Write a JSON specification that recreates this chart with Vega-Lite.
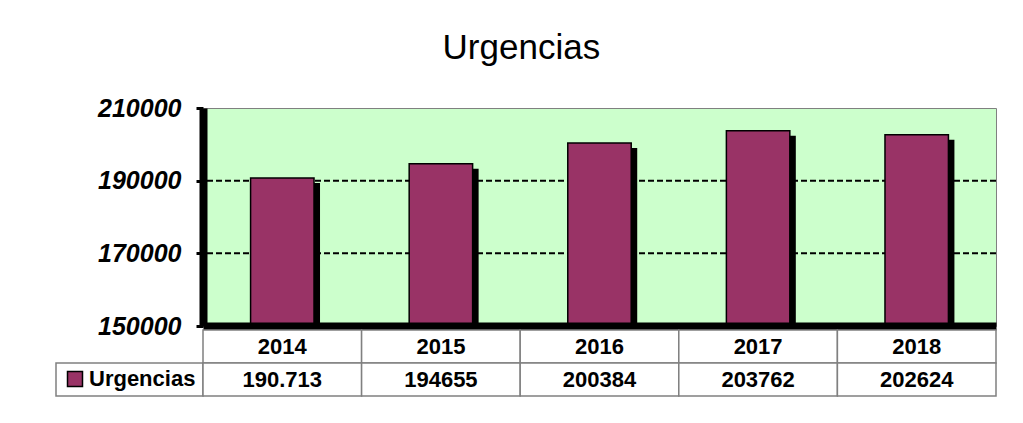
{
  "$schema": "https://vega.github.io/schema/vega-lite/v6.json",
  "padding": {"left": 55, "top": 30, "right": 5, "bottom": 5},
  "background": "white",
  "title": {"text": "Urgencias", "font": "Liberation Sans", "fontSize": 35, "fontWeight": "normal", "anchor": "middle", "color": "black", "offset": 30, "dx": -5},
  "columns": 2,
  "spacing": {"row": 4, "column": 0},
  "bounds": "flush",
  "datasets": {
    "urg": [
      {"year": "2014", "value": 190713, "serie": "Urgencias"},
      {"year": "2015", "value": 194655, "serie": "Urgencias"},
      {"year": "2016", "value": 200384, "serie": "Urgencias"},
      {"year": "2017", "value": 203762, "serie": "Urgencias"},
      {"year": "2018", "value": 202624, "serie": "Urgencias"}
    ],
    "grid": [{"v": 170000}, {"v": 190000}],
    "tabla": [
      {"year": "2014", "row": "year", "text": "2014"},
      {"year": "2015", "row": "year", "text": "2015"},
      {"year": "2016", "row": "year", "text": "2016"},
      {"year": "2017", "row": "year", "text": "2017"},
      {"year": "2018", "row": "year", "text": "2018"},
      {"year": "2014", "row": "value", "text": "190.713"},
      {"year": "2015", "row": "value", "text": "194655"},
      {"year": "2016", "row": "value", "text": "200384"},
      {"year": "2017", "row": "value", "text": "203762"},
      {"year": "2018", "row": "value", "text": "202624"}
    ]
  },
  "concat": [
    {
      "width": 147, "height": 218,
      "view": {"stroke": null},
      "data": {"values": [{}]},
      "mark": {"type": "text"},
      "encoding": {"text": {"value": ""}}
    },
    {
      "width": 793, "height": 218,
      "view": {"fill": "#CCFFCC", "stroke": "#808080", "strokeWidth": 1},
      "layer": [
        {
          "data": {"name": "grid"},
          "mark": {"type": "rule", "color": "black", "strokeWidth": 2, "strokeDash": [6, 3]},
          "encoding": {"y": {"field": "v", "type": "quantitative", "scale": {"domain": [150000, 210000], "nice": false, "zero": false},
                  "axis": {"values": [150000, 170000, 190000, 210000], "format": "d", "title": null,
                           "labelFont": "Liberation Sans", "labelFontSize": 25, "labelFontWeight": "bold", "labelFontStyle": "italic",
                           "labelColor": "black", "labelPadding": 15, "tickSize": 7, "tickWidth": 3, "tickColor": "black",
                           "domainColor": "black", "domainWidth": 8, "grid": false, "zindex": 1}}}
        },
        {
          "data": {"name": "urg"},
          "mark": {"type": "bar", "color": "black", "width": {"band": 0.4}, "xOffset": 6, "yOffset": 5, "clip": true},
          "encoding": {
            "x": {"field": "year", "type": "ordinal", "scale": {"paddingInner": 0, "paddingOuter": 0},
                  "axis": {"title": null, "labels": false, "ticks": false, "domain": true, "domainColor": "black", "domainWidth": 8, "zindex": 1, "grid": false}},
            "y": {"field": "value", "type": "quantitative"}
          }
        },
        {
          "data": {"name": "urg"},
          "mark": {"type": "bar", "width": {"band": 0.4}, "stroke": "black", "strokeWidth": 1.5, "clip": true},
          "encoding": {
            "x": {"field": "year", "type": "ordinal"},
            "y": {"field": "value", "type": "quantitative"},
            "color": {"field": "serie", "type": "nominal", "scale": {"range": ["#993366"]},
                      "legend": {"orient": "none", "legendX": 8, "legendY": 260, "title": null, "padding": 0,
                                 "symbolType": "square", "symbolSize": 225, "symbolStrokeColor": "black", "symbolStrokeWidth": 1.5,
                                 "labelFont": "Liberation Sans", "labelFontSize": 22, "labelFontWeight": "bold", "labelColor": "black", "labelOffset": 3}}
          }
        }
      ]
    },
    {
      "width": 147, "height": 66,
      "view": {"stroke": null},
      "data": {"values": [{"row": "value"}]},
      "mark": {"type": "rect", "filled": false, "stroke": "#808080", "strokeWidth": 1.5},
      "encoding": {
        "y": {"field": "row", "type": "nominal", "scale": {"domain": ["year", "value"], "paddingInner": 0, "paddingOuter": 0}, "axis": null}
      }
    },
    {
      "width": 793, "height": 66,
      "view": {"stroke": null},
      "data": {"name": "tabla"},
      "encoding": {
        "x": {"field": "year", "type": "ordinal", "scale": {"paddingInner": 0, "paddingOuter": 0}, "axis": null},
        "y": {"field": "row", "type": "nominal", "scale": {"domain": ["year", "value"], "paddingInner": 0, "paddingOuter": 0}, "axis": null}
      },
      "layer": [
        {"mark": {"type": "rect", "fill": "white", "stroke": "#808080", "strokeWidth": 1.5}},
        {"mark": {"type": "text", "font": "Liberation Sans", "fontSize": 22, "fontWeight": "bold", "color": "black"},
         "encoding": {"text": {"field": "text"}}}
      ]
    }
  ],
  "config": {"font": "Liberation Sans"}
}
